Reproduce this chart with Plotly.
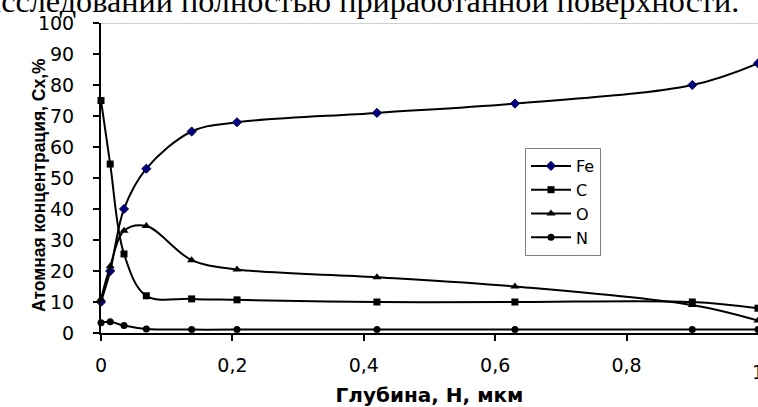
import plotly.graph_objects as go

depth = [0, 0.014, 0.035, 0.069, 0.138, 0.207, 0.42, 0.63, 0.9, 1.0]
fe = [10, 20, 40, 53, 65, 68, 71, 74, 80, 87]
c = [75, 54.5, 25.5, 12, 11, 10.7, 10, 10, 10, 8]
o = [11, 21.5, 33, 34.5, 23.5, 20.5, 18, 15, 9, 4]
n = [3.3, 3.6, 2.4, 1.3, 1.1, 1.1, 1.1, 1.1, 1.1, 1.1]

x_tickvals = [0, 0.2, 0.4, 0.6, 0.8]
x_ticktext = ["0", "0,2", "0,4", "0,6", "0,8"]
y_tickvals = [0, 10, 20, 30, 40, 50, 60, 70, 80, 90, 100]

TICK_FONT = dict(family="DejaVu Sans", size=19, color="black")

series = [
    ("Fe", fe, dict(symbol="diamond", size=7, color="#000080", line=dict(color="#000040", width=1))),
    ("C", c, dict(symbol="square", size=7, color="black")),
    ("O", o, dict(symbol="triangle-up", size=8, color="black")),
    ("N", n, dict(symbol="circle", size=7, color="black")),
]

fig = go.Figure()
for name, vals, mk in series:
    fig.add_trace(go.Scatter(
        x=depth, y=vals, name=name, mode="lines+markers",
        line=dict(color="black", width=2, shape="spline", smoothing=1.0),
        marker=mk, cliponaxis=False,
    ))

fig.add_shape(type="line", xref="paper", yref="y", x0=0, x1=1, y0=100, y1=100,
              line=dict(color="#a0a0a0", width=1))

fig.add_annotation(text="исследовании полностью приработанной поверхности.",
                   xref="paper", yref="paper", x=(740 - 101) / 657, y=1.0097,
                   xanchor="right", yanchor="bottom", showarrow=False, borderpad=0,
                   font=dict(family="Liberation Serif", size=32.2, color="black"))

# cut-off last x tick label at the right edge
fig.add_annotation(text="1", xref="x", yref="paper", x=1.0, y=-0.085,
                   xanchor="center", yanchor="top", showarrow=False,
                   font=TICK_FONT)

# y axis title
fig.add_annotation(text="<b>Атомная концентрация, Сх,%</b>", textangle=-90,
                   xref="paper", yref="paper", x=(39 - 101) / 657, y=(333 - 185) / 310,
                   xanchor="center", yanchor="middle", showarrow=False,
                   font=dict(family="Liberation Sans", size=17.5, color="black"))

fig.update_layout(
    width=758, height=407,
    margin=dict(l=101, r=0, t=23, b=74),
    paper_bgcolor="white", plot_bgcolor="white",
    font=dict(family="Liberation Sans, Arial", color="black"),
    showlegend=True,
    legend=dict(x=(525 - 101) / 657, y=(333 - 148) / 310, xanchor="left", yanchor="top",
                bordercolor="#808080", borderwidth=1, bgcolor="white",
                font=dict(family="DejaVu Sans", size=16), tracegroupgap=0, itemwidth=40),
    xaxis=dict(range=[0, 1], tickvals=x_tickvals, ticktext=x_ticktext,
               showgrid=False, zeroline=False, showline=True, linecolor="black", linewidth=2,
               ticks="outside", ticklen=6, tickwidth=2, tickcolor="black",
               tickfont=TICK_FONT, ticklabelstandoff=8,
               title=dict(text="<b>Глубина, Н, мкм</b>",
                          font=dict(family="DejaVu Sans", size=20), standoff=16)),
    yaxis=dict(range=[0, 100], tickvals=y_tickvals,
               showgrid=False, zeroline=False, showline=True, linecolor="black", linewidth=2,
               ticks="outside", ticklen=6, tickwidth=2, tickcolor="black",
               tickfont=TICK_FONT, ticklabelstandoff=15),
)

fig.write_html("out.html")
